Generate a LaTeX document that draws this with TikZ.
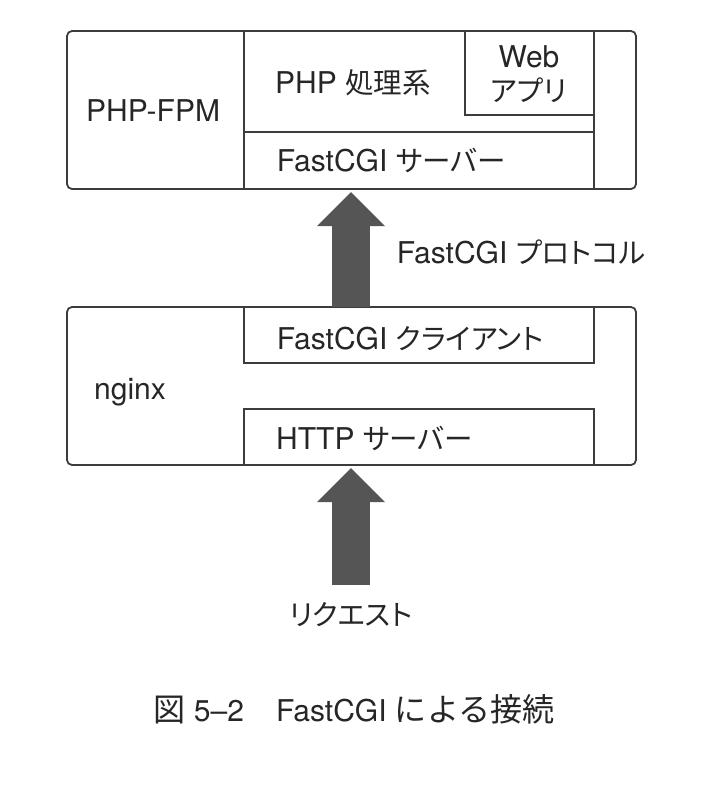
\documentclass[tikz,border=0pt]{standalone}
\usepackage{fontspec}
\setmainfont{TeX Gyre Heros}
\newfontfamily\jp[RawFeature=+palt, Scale=0.95]{Noto Sans CJK JP}
\newfontfamily\jpw[Scale=1.07]{Noto Sans CJK JP}
\usetikzlibrary{arrows.meta}
\definecolor{trait}{HTML}{3C3C3C}
\definecolor{fleche}{HTML}{555555}
\tikzset{
  boite/.style={draw=trait, line width=1.8pt, inner sep=0pt, outer sep=0pt, anchor=north west},
  cadre/.style={boite, rounded corners=5pt, minimum width=569pt, minimum height=158pt},
  texte/.style={anchor=base west, inner sep=0pt, text=black!85, font=\fontsize{30}{36}\selectfont},
  bigarrow/.style={draw=fleche, line width=38pt, shorten >=3pt,
    -{Triangle[length=34pt 0 0, width=68pt 0 0, line width=0pt 0 0]}},
}
\begin{document}
\begin{tikzpicture}[x=1pt, y=-1pt]
\useasboundingbox (0,0) rectangle (721,785);

% PHP-FPM
\begin{scope}
  \node[cadre] (fpm) at (67,31) {};
  \node[boite, minimum width=350pt, minimum height=101pt] (phpsys) at (244,31) {};
  \node[boite, minimum width=350pt, minimum height=57pt] (fcgisrv) at (244,132) {};
  \node[boite, minimum width=129pt, minimum height=84pt] (webapp) at (465,31) {};

  \node[texte] (fpmlbl) at (86,121.7) {PHP-FPM};
  \node[texte] (phplbl) at (275,93.3) {PHP {\jp 処理系}};
  \node[texte, anchor=base] (weblbl) at (529,67) {Web};
  \node[texte, anchor=base] (applbl) at (529,101) {\jp アプリ};
  \node[texte] (srvlbl) at (276.7,171.7) {FastCGI {\jp サーバー}};
\end{scope}

% nginx
\begin{scope}
  \node[cadre] (nginx) at (67,307) {};
  \node[boite, minimum width=350pt, minimum height=56pt] (client) at (244,307) {};
  \node[boite, minimum width=350pt, minimum height=56pt] (http) at (244,409) {};

  \node[texte] (nginxlbl) at (94,399.3) {nginx};
  \node[texte] (clientlbl) at (276.7,349) {FastCGI {\jp クライアント}};
  \node[texte] (httplbl) at (276,449) {HTTP {\jp サーバー}};
\end{scope}

% flèches
\node[texte, anchor=base] (req) at (351,625) {\jp リクエスト};
\coordinate (reqtop) at (351,585);
\draw[bigarrow] (reqtop) -- (http.south -| reqtop);
\draw[bigarrow] (client.north -| req) -- (fpm.south -| req);
\node[texte] (protolbl) at (396.7,263.3) {FastCGI {\jp プロトコル}};

% légende
\node[texte, anchor=base] (caption) at (354,721) {{\jpw 図} 5--2{\jpw 　}FastCGI {\jpw による接続}};
\end{tikzpicture}
\end{document}
